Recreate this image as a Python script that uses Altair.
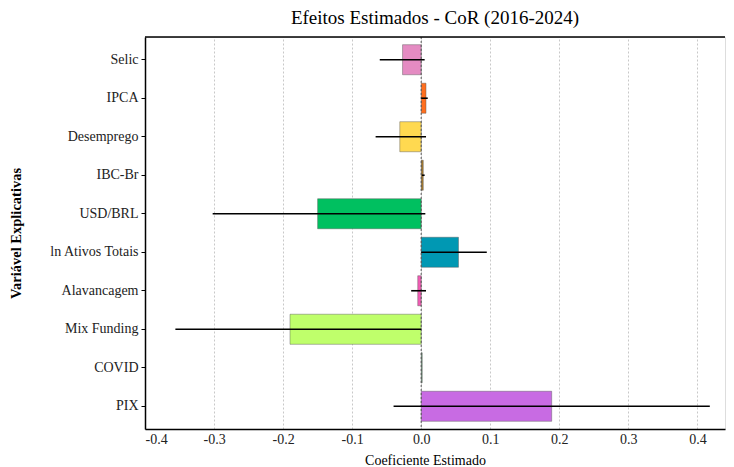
import altair as alt
import pandas as pd

variables = ["Selic", "IPCA", "Desemprego", "IBC-Br", "USD/BRL", "ln Ativos Totais",
             "Alavancagem", "Mix Funding", "COVID", "PIX"]
coef = [-0.027, 0.007, -0.031, 0.003, -0.150, 0.054, -0.005, -0.190, 0.0015, 0.189]
ci_low = [-0.060, 0.000, -0.066, 0.001, -0.302, 0.000, -0.0145, -0.356, None, -0.040]
ci_high = [0.005, 0.0095, 0.007, 0.005, 0.006, 0.095, 0.007, 0.000, None, 0.418]
colors = ["#e48bc2", "#ff6f1f", "#ffd950", "#a67a2e", "#00c060", "#0098b3",
          "#f25cb5", "#bfff6b", "#6a9a7a", "#c86be3"]
x_ticks = [-0.4, -0.3, -0.2, -0.1, 0.0, 0.1, 0.2, 0.3, 0.4]

df = pd.DataFrame({"var": variables, "coef": coef, "lo": ci_low, "hi": ci_high, "color": colors})
df["zero"] = 0.0

FONT = "Liberation Serif"
W, H = 580, 392

yenc = alt.Y("var:N", sort=variables,
             scale=alt.Scale(paddingInner=0.22, paddingOuter=0.2),
             axis=alt.Axis(title="Variável Explicativas", titleFont=FONT, titleFontSize=14.5,
                           titleFontWeight="bold", titleColor="#000", titleAngle=-90,
                           titleX=-122, titleY=H / 2, titleAlign="center", titleBaseline="bottom",
                           labelFont=FONT, labelFontSize=14, labelColor="#222",
                           labelPadding=3, tickSize=4, tickColor="#000",
                           domainColor="#000", domainWidth=1.5, grid=False, labelLimit=200))

xscale = alt.Scale(domain=[-0.4, 0.44], nice=False, zero=False)
xaxis = alt.Axis(title="Coeficiente Estimado", titleFont=FONT, titleFontSize=14,
                 titleFontWeight="normal", titleColor="#000", titlePadding=7, titleX=280,
                 labelFont=FONT, labelFontSize=14, labelColor="#222", labelPadding=3,
                 values=x_ticks, ticks=False,
                 labelExpr="replace(format(datum.value, '.1f'), '\u2212', '-')",
                 domainColor="#000", domainWidth=1.5,
                 grid=True, gridColor="#c8c8c8", gridDash=[2, 2], gridWidth=1)

bars = alt.Chart(df).mark_bar(stroke="#555555", strokeWidth=0.8, strokeOpacity=0.55).encode(
    x=alt.X("zero:Q", scale=xscale, axis=xaxis),
    x2="coef:Q",
    y=yenc,
    color=alt.Color("color:N", scale=None),
)

zero_line = alt.Chart(pd.DataFrame({"z": [0.0]})).mark_rule(
    color="#555555", strokeDash=[2, 2], strokeWidth=1
).encode(x=alt.X("z:Q", scale=xscale))

errs = alt.Chart(df).transform_filter("isValid(datum.lo)").mark_rule(
    color="#000", strokeWidth=1.6
).encode(
    x=alt.X("lo:Q", scale=xscale),
    x2="hi:Q",
    y=alt.Y("var:N", sort=variables, bandPosition=0.5),
)

top_border = alt.Chart(pd.DataFrame({"a": [0]})).mark_rule(color="#000", strokeWidth=1.5).encode(
    x=alt.value(0), x2=alt.value(W), y=alt.value(0)
)

chart = alt.layer(bars, zero_line, errs, top_border).properties(
    width=W, height=H,
    title=alt.Title("Efeitos Estimados - CoR (2016-2024)", font=FONT, fontSize=19,
                    fontWeight="normal", color="#000", offset=8, anchor="middle"),
    autosize=alt.AutoSizeParams(type="none"),
    padding={"left": 137, "top": 29, "right": 1, "bottom": 37},
).configure_view(stroke=None).configure(background="white")

chart.save("out.html", embed_options={"renderer": "svg", "actions": False})
